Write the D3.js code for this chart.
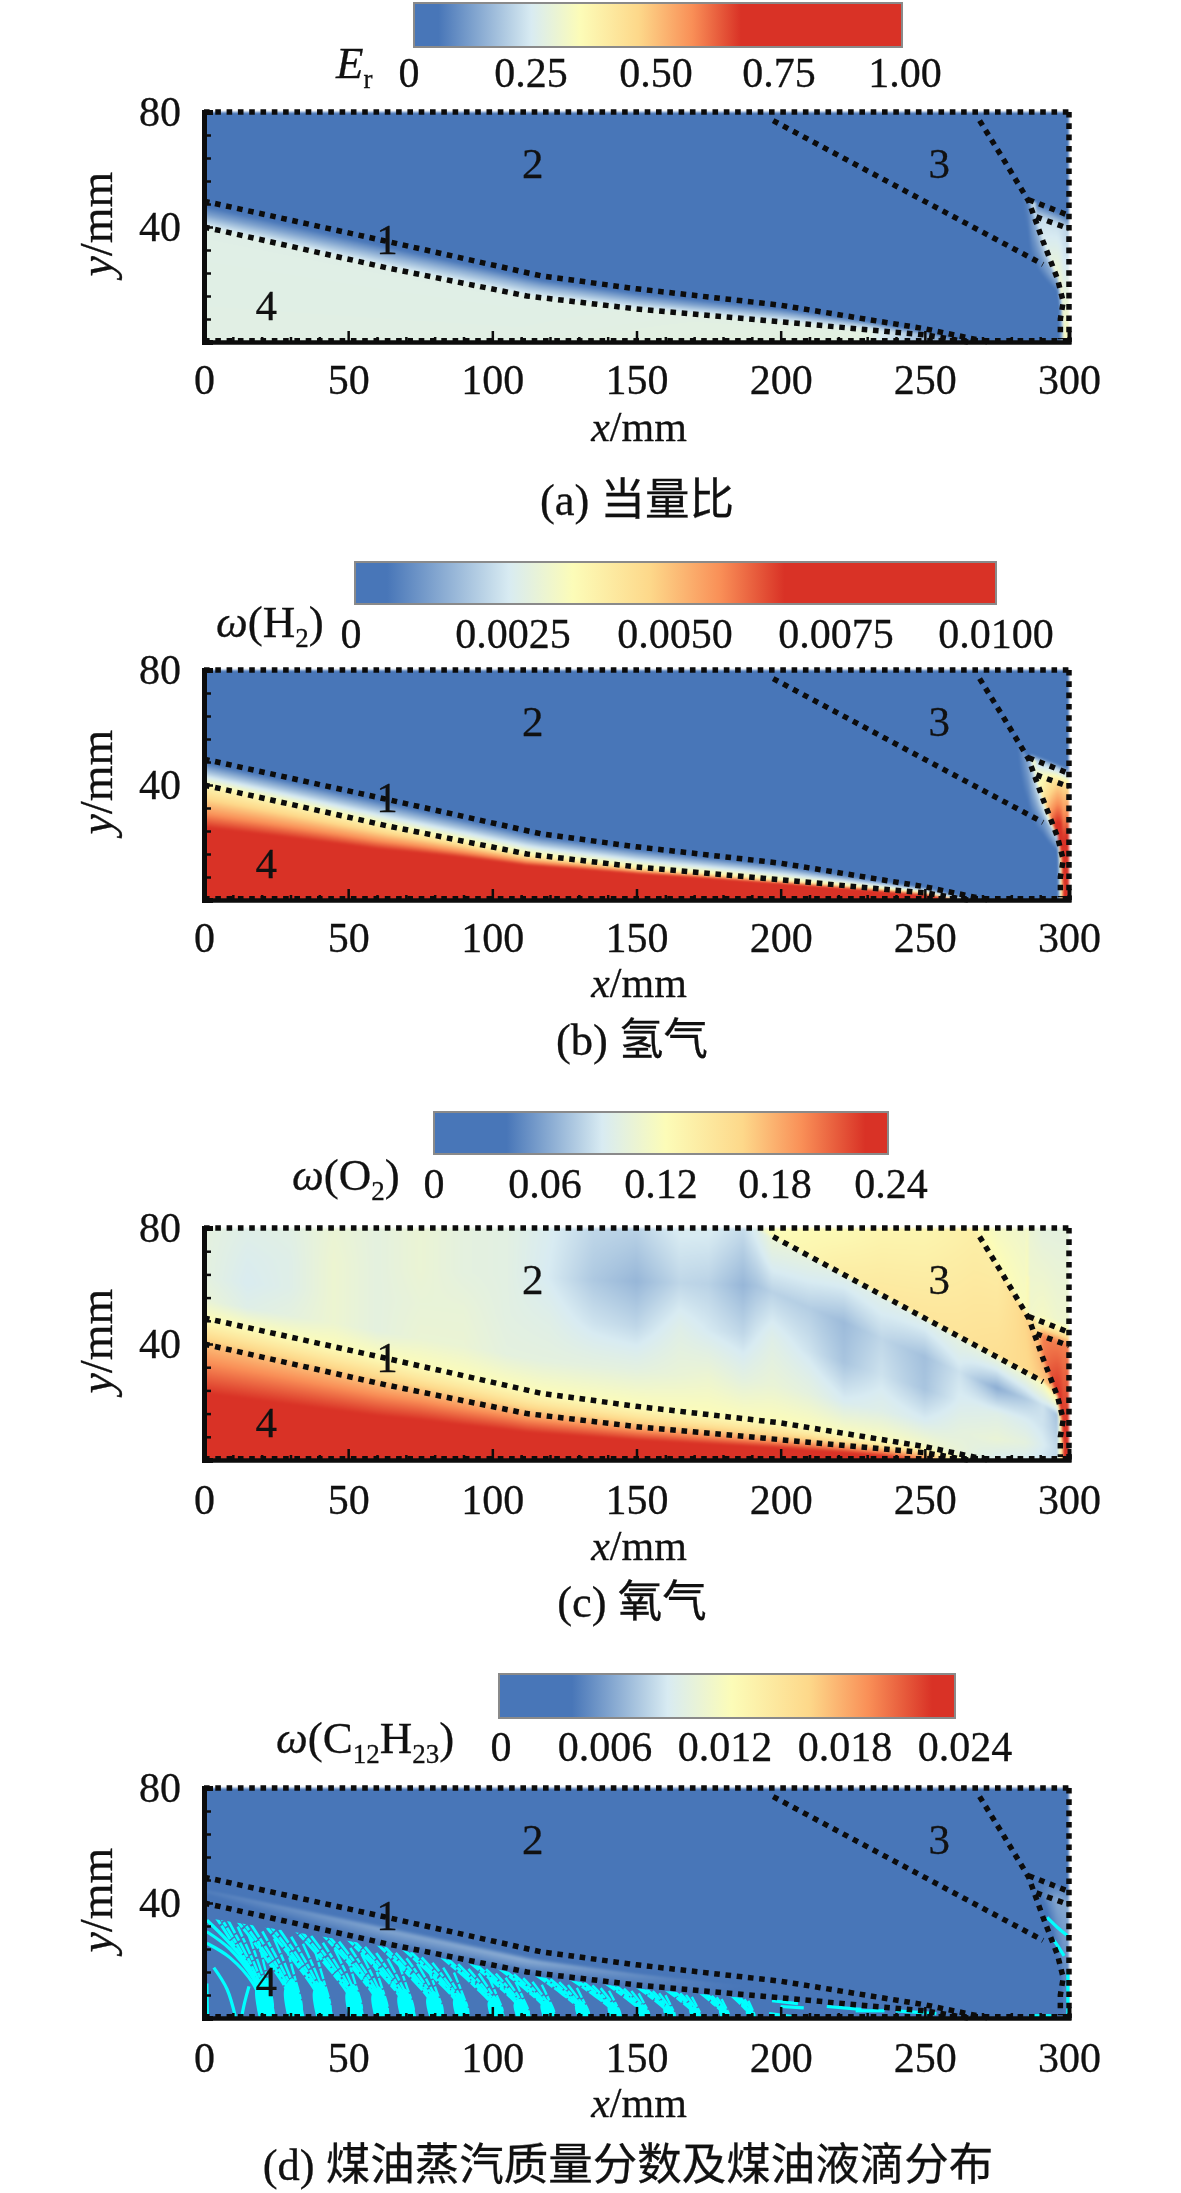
<!DOCTYPE html>
<html>
<head>
<meta charset="utf-8">
<script src="https://cdn.jsdelivr.net/npm/d3@7"></script>
<style>
html, body { margin: 0; padding: 0; background: #fff; }
#page { position: relative; width: 1181px; height: 2193px; overflow: hidden; }
canvas, svg { position: absolute; }
canvas { filter: blur(1.3px); }
text { font-family: "Liberation Serif", "Noto Sans CJK SC", serif; fill: #111; stroke: #111; stroke-width: 0.3px; }
</style>
</head>
<body>
<div id="page"></div>
<script>
/* shock and expansion lines, [x mm, y mm] */
var lowerShock = [[0, 40], [63.5, 25.8], [112, 16], [150, 11.5], [200, 7], [250, 2.5], [265, 0]];
var upperShock = [[0, 49], [63.5, 35], [117, 23], [150, 18.5], [200, 12.8], [250, 4.6], [272, 0]];
var obliqueShock = [[191.5, 80], [291, 27], [296, 22], [297.5, 14], [298, 0]];
var lineThree = [[267, 80], [277, 64], [286, 49], [291, 35], [296, 22], [297.5, 14], [298, 0]];
var reflectHigh = [[285.9, 80], [286, 49.5], [300, 44]];
var reflectLow = [[288.6, 80], [288.7, 43.5], [300, 39.4]];

var xTicks = [0, 50, 100, 150, 200, 250, 300];
var xMinorTicks = [10, 20, 30, 40, 60, 70, 80, 90, 110, 120, 130, 140, 160, 170, 180, 190, 210, 220, 230, 240, 260, 270, 280, 290];
var yTicks = [40, 80];
var yMinorTicks = [8, 16, 24, 32, 48, 56, 64, 72];
var zoneLabels = [["1", 63.5, 35.4], ["2", 114, 62], ["3", 255, 62], ["4", 21.6, 12.7]];

var palette = ["#4876b8", "#4876b8", "#d8ebf2", "#fcfcb8", "#fdd88a", "#f98f57", "#d93226", "#d93226"];
var stopsHot = [0, 0.05, 0.24, 0.34, 0.46, 0.57, 0.67, 1];
var stopsCool = [0, 0.16, 0.37, 0.51, 0.68, 0.81, 0.95, 1];

var erTicks = ["0", "0.25", "0.50", "0.75", "1.00"];
var h2Ticks = ["0", "0.0025", "0.0050", "0.0075", "0.0100"];
var o2Ticks = ["0", "0.06", "0.12", "0.18", "0.24"];
var keroTicks = ["0", "0.006", "0.012", "0.018", "0.024"];

/*
 * field values. One row per mesh level, one column per x station:
 * wall, lower, mid, upper, three levels above, oblique -/+, line 3 -/+,
 * reflect low, reflect high, just above it, top
 */
var erStations = [0, 60, 110, 170, 230, 262, 280, 285.9, 287, 291, 296, 299, 300];
var erField = [
	[.265, .265, .265, .27, .27, .10, 0, 0, 0, 0, 0, .30, .33],
	[.26, .26, .26, .265, .265, .10, 0, 0, 0, 0, 0, .30, .33],
	[.12, .13, .14, .12, .15, .02, 0, 0, 0, 0, 0, .30, .33],
	[.01, 0, 0, 0, 0, 0, 0, 0, 0, 0, 0, .30, .33],
	[0, 0, 0, 0, 0, 0, 0, 0, 0, 0, 0, .30, .33],
	[0, 0, 0, 0, 0, 0, 0, 0, 0, 0, 0, .30, .33],
	[0, 0, 0, 0, 0, 0, 0, 0, 0, 0, 0, .30, .33],
	[0, 0, 0, 0, 0, 0, 0, .02, .03, .10, .15, .30, .33],
	[0, 0, 0, 0, 0, 0, 0, .03, .05, .10, .15, .30, .33],
	[0, 0, 0, 0, 0, 0, .01, .08, .12, .20, .25, .30, .33],
	[0, 0, 0, 0, 0, 0, 0, .02, .20, .24, .30, .33, .33],
	[0, 0, 0, 0, 0, 0, 0, 0, .20, .22, .22, .20, .20],
	[0, 0, 0, 0, 0, 0, 0, 0, .05, .05, .04, .03, .03],
	[0, 0, 0, 0, 0, 0, 0, 0, 0, 0, 0, 0, 0],
	[0, 0, 0, 0, 0, 0, 0, 0, 0, 0, 0, 0, 0]
];

var h2Stations = [0, 60, 110, 170, 230, 250, 262, 280, 285.9, 287, 291, 296, 299, 300];
var h2Field = [
	[.012, .013, .016, .02, .02, .015, .0045, 0, 0, 0, 0, 0, .009, .0095],
	[.0036, .0036, .0036, .0036, .0036, .0036, .002, 0, 0, 0, 0, 0, .009, .0095],
	[.0018, .0018, .0018, .0018, .0019, .002, .001, 0, 0, 0, 0, 0, .009, .0095],
	[.0001, .0001, .0001, .0001, .0001, .0001, 0, 0, 0, 0, 0, 0, .009, .0095],
	[0, 0, 0, 0, 0, 0, 0, 0, 0, 0, 0, 0, .009, .0095],
	[0, 0, 0, 0, 0, 0, 0, 0, 0, 0, 0, 0, .009, .0095],
	[0, 0, 0, 0, 0, 0, 0, 0, 0, 0, 0, 0, .009, .0095],
	[0, 0, 0, 0, 0, 0, 0, 0, .0003, .0005, .001, .002, .009, .0095],
	[0, 0, 0, 0, 0, 0, 0, 0, .0003, .0005, .001, .002, .009, .0095],
	[0, 0, 0, 0, 0, 0, 0, 0, .0014, .0018, .003, .004, .009, .0095],
	[0, 0, 0, 0, 0, 0, 0, 0, 0, .0022, .004, .0075, .0095, .0095],
	[0, 0, 0, 0, 0, 0, 0, 0, 0, .003, .0035, .0045, .0045, .0045],
	[0, 0, 0, 0, 0, 0, 0, 0, 0, .002, .002, .002, .0018, .0018],
	[0, 0, 0, 0, 0, 0, 0, 0, 0, 0, 0, 0, 0, 0],
	[0, 0, 0, 0, 0, 0, 0, 0, 0, 0, 0, 0, 0, 0]
];

var o2Stations = [0, 15, 30, 45, 60, 75, 90, 105, 120, 135, 150, 165, 175, 187, 197, 210, 222, 235, 250, 262, 275, 285, 291, 296, 299, 300];
var o2Field = [
	[.30, .30, .30, .30, .30, .30, .30, .30, .30, .30, .30, .30, .30, .30, .30, .29, .28, .26, .20, .13, .09, .09, .08, .08, .24, .24],
	[.175, .175, .175, .175, .175, .178, .178, .18, .18, .18, .18, .18, .18, .18, .18, .18, .18, .175, .16, .13, .095, .09, .085, .08, .24, .24],
	[.147, .147, .147, .147, .147, .147, .147, .147, .147, .147, .147, .147, .147, .147, .147, .147, .14, .14, .13, .115, .09, .09, .08, .08, .24, .24],
	[.122, .122, .122, .122, .122, .122, .122, .122, .122, .122, .122, .122, .122, .122, .122, .122, .12, .12, .115, .105, .09, .09, .085, .08, .24, .24],
	[.105, .095, .10, .108, .10, .106, .106, .10, .10, .10, .10, .105, .108, .10, .105, .10, .09, .095, .09, .10, .105, .10, .09, .08, .22, .22],
	[.10, .09, .095, .108, .10, .104, .104, .098, .095, .085, .08, .095, .088, .08, .095, .085, .072, .085, .072, .09, .095, .09, .085, .075, .22, .22],
	[.10, .092, .095, .108, .10, .106, .10, .098, .088, .074, .066, .08, .078, .066, .078, .076, .068, .08, .07, .085, .062, .075, .085, .07, .22, .22],
	[.10, .095, .097, .106, .10, .106, .10, .098, .09, .08, .078, .09, .09, .082, .105, .10, .095, .095, .095, .10, .105, .11, .12, .14, .24, .24],
	[.10, .095, .097, .106, .10, .106, .10, .098, .09, .08, .078, .09, .09, .082, .125, .13, .14, .145, .148, .15, .155, .16, .17, .18, .24, .24],
	[.10, .095, .097, .106, .10, .106, .10, .098, .09, .08, .078, .09, .09, .082, .12, .125, .125, .13, .13, .135, .14, .165, .18, .19, .24, .24],
	[.10, .095, .097, .106, .10, .106, .10, .098, .09, .08, .078, .09, .09, .082, .12, .125, .125, .13, .13, .135, .125, .12, .20, .23, .24, .24],
	[.10, .095, .097, .106, .10, .106, .10, .098, .09, .08, .078, .09, .09, .082, .12, .125, .125, .13, .13, .135, .115, .11, .20, .20, .20, .20],
	[.10, .095, .097, .106, .10, .106, .10, .098, .09, .08, .078, .09, .09, .082, .12, .125, .125, .13, .13, .135, .115, .105, .125, .13, .13, .13],
	[.10, .095, .097, .106, .10, .106, .10, .098, .09, .08, .078, .09, .09, .082, .12, .125, .125, .13, .13, .135, .115, .11, .115, .11, .11, .11],
	[.10, .095, .097, .106, .10, .106, .10, .098, .09, .08, .078, .09, .09, .082, .12, .125, .125, .13, .13, .135, .11, .108, .10, .10, .10, .10]
];

var keroStations = [0, 60, 110, 170, 230, 262, 290, 296, 300];
var keroField = [
	[.001, .001, .001, .001, .001, 0, 0, 0, 0],
	[.003, .004, .004, .004, .003, 0, 0, 0, 0],
	[.0042, .0058, .0062, .0042, .003, 0, 0, 0, 0],
	[0, 0, 0, 0, 0, 0, 0, 0, 0],
	[0, 0, 0, 0, 0, 0, 0, 0, 0],
	[0, 0, 0, 0, 0, 0, 0, 0, 0],
	[0, 0, 0, 0, 0, 0, 0, 0, 0],
	[0, 0, 0, 0, 0, 0, 0, 0, 0],
	[0, 0, 0, 0, 0, 0, 0, 0, 0],
	[0, 0, 0, 0, 0, 0, 0, 0, 0],
	[0, 0, 0, 0, 0, 0, .002, .004, .004],
	[0, 0, 0, 0, 0, 0, .004, .006, .006],
	[0, 0, 0, 0, 0, 0, .004, .0045, .0045],
	[0, 0, 0, 0, 0, 0, 0, 0, 0],
	[0, 0, 0, 0, 0, 0, 0, 0, 0]
];

/* kerosene droplets: plume feet on the wall, how far back each plume reaches */
var plumeFoot = [22, 32, 42, 53, 62, 71, 81, 90, 102, 111, 120, 132, 143, 153, 162, 171, 181, 190];
var plumeReach = [21, 24, 24, 24, 23, 23, 22, 22, 21, 20, 19, 18, 17, 15, 13, 12, 10, 8];
var plumeWidth = [7, 7, 7, 6.5, 6.5, 6.5, 6.5, 6, 6, 6, 5.5, 5.5, 5, 5, 4.5, 4.5, 4, 3.5];
var streakFraction = [1, 0.83, 0.66, 0.49, 0.32, 0.15];
var looseStreaks = [
	[[1, 34], [8, 27], [16, 17], [22, 0]],
	[[1, 30], [9, 24], [17, 14], [24, 0]],
	[[1, 26], [9, 21], [17, 12], [22, 0]],
	[[3.4, 17.5], [8, 10], [11, 0]],
	[[15.6, 11], [14, 5], [13, 0]],
	[[1, 12], [1.2, 0]],
	[[292.4, 35], [296, 31.5], [299.4, 28.7]],
	[[294.8, 27], [296.8, 24], [298.3, 21.6]],
	[[299.6, 16], [299.6, 0]],
	[[197, 6], [206, 5]], [[200, 4], [208, 3.5]],
	[[216, 4], [228, 3]], [[226, 2.5], [236, 2.5]],
	[[240, 2.5], [254, 1.5]], [[196, 1.5], [204, 0.5]], [[286, 0.8], [294, 0.8]]
];

var panels = [
	{ top: 112, bottom: 342, title: [["E", "i"], ["r", "s"]], titleX: 336, titleY: 78,
		barX: [414, 902], barY: [3, 47], tickLabels: erTicks, tickX: [409, 531, 656, 779, 905], tickY: 87,
		stations: erStations, field: erField, max: 1, stops: stopsHot,
		caption: "(a) 当量比", capX: 637, capY: 515, tickBase: 393, xLabel: 441 },
	{ top: 670, bottom: 900, title: [["ω", "i"], ["(H", ""], ["2", "s"], [")", ""]], titleX: 216, titleY: 637,
		barX: [355, 996], barY: [562, 604], tickLabels: h2Ticks, tickX: [351, 513, 675, 836, 996], tickY: 648,
		stations: h2Stations, field: h2Field, max: 0.01, stops: stopsHot,
		caption: "(b) 氢气", capX: 632, capY: 1055, tickBase: 951, xLabel: 997 },
	{ top: 1228, bottom: 1460, title: [["ω", "i"], ["(O", ""], ["2", "s"], [")", ""]], titleX: 292, titleY: 1190,
		barX: [434, 888], barY: [1112, 1154], tickLabels: o2Ticks, tickX: [434, 545, 661, 775, 891], tickY: 1198,
		stations: o2Stations, field: o2Field, max: 0.24, stops: stopsCool,
		caption: "(c) 氧气", capX: 632, capY: 1617, tickBase: 1513, xLabel: 1560 },
	{ top: 1788, bottom: 2018, title: [["ω", "i"], ["(C", ""], ["12", "s"], ["H", ""], ["23", "s"], [")", ""]], titleX: 276, titleY: 1753,
		barX: [499, 955], barY: [1674, 1718], tickLabels: keroTicks, tickX: [501, 605, 725, 845, 965], tickY: 1761,
		stations: keroStations, field: keroField, max: 0.024, stops: stopsCool,
		caption: "(d) 煤油蒸汽质量分数及煤油液滴分布", capX: 628, capY: 2180, tickBase: 2071, xLabel: 2117, droplets: true }
];

var plotLeft = 204, plotRight = 1069;
var fontSize = 42;

var page = d3.select("#page");
var svg = page.append("svg").attr("width", 1181).attr("height", 2193);
var defs = svg.append("defs");

var xScale = d3.scaleLinear().domain([0, 300]).range([plotLeft, plotRight]);

function curveScale(points) {
	return d3.scaleLinear()
		.domain(points.map(function (p) { return p[0]; }))
		.range(points.map(function (p) { return p[1]; }))
		.clamp(true);
}

var lowerY = curveScale(lowerShock);
var upperY = curveScale(upperShock);
var obliqueY = curveScale(obliqueShock);
var lineThreeY = curveScale(lineThree);
var highY = curveScale(reflectHigh);
var lowY = curveScale(reflectLow);

/* mesh levels at a given x, kept ascending so a scale can bisect them */
function meshLevels(x) {
	var lo = lowerY(x), up = upperY(x), ob = obliqueY(x), l3 = lineThreeY(x);
	var high = highY(x), low = Math.min(lowY(x), high);
	var levels = [0, lo, (lo + up) / 2, up, up + (ob - up) * 0.2, up + (ob - up) * 0.45,
		up + (ob - up) * 0.7, ob - 0.5, ob + 0.5, l3 - 0.5, l3 + 0.5, low, high, high + 2.5, 80];
	var last = 0;
	return levels.map(function (v) {
		last = Math.min(80, Math.max(last, v));
		return last;
	});
}

function drawField(panel, yScale) {
	var width = plotRight - plotLeft, height = panel.bottom - panel.top;
	var canvas = page.insert("canvas", "svg")
		.attr("width", width).attr("height", height)
		.style("left", plotLeft + "px").style("top", panel.top + "px");
	var ctx = canvas.node().getContext("2d");
	var image = ctx.createImageData(width, height);

	var color = d3.scaleLinear()
		.domain(panel.stops.map(function (s) { return s * panel.max; }))
		.range(palette)
		.clamp(true);
	var lut = d3.range(1024).map(function (i) { return d3.rgb(color(i / 1023 * panel.max)); });
	var rowScales = panel.field.map(function (row) {
		return d3.scaleLinear().domain(panel.stations).range(row).clamp(true);
	});

	for (var i = 0; i < width; i++) {
		var x = xScale.invert(plotLeft + i + 0.5);
		var column = d3.scaleLinear()
			.domain(meshLevels(x))
			.range(rowScales.map(function (s) { return s(x); }));
		for (var j = 0; j < height; j++) {
			var v = column(yScale.invert(panel.top + j + 0.5));
			var c = lut[Math.max(0, Math.min(1023, Math.round(v / panel.max * 1023)))];
			var k = (j * width + i) * 4;
			image.data[k] = c.r;
			image.data[k + 1] = c.g;
			image.data[k + 2] = c.b;
			image.data[k + 3] = 255;
		}
	}
	ctx.putImageData(image, 0, 0);
}

function drawBar(panel, index) {
	var id = "bar" + index;
	var grad = defs.append("linearGradient").attr("id", id);
	var color = d3.scaleLinear().domain(panel.stops).range(palette);
	grad.selectAll("stop").data(panel.stops).enter().append("stop")
		.attr("offset", function (d) { return d; })
		.attr("stop-color", function (d) { return color(d); });

	svg.append("rect")
		.attr("x", panel.barX[0]).attr("y", panel.barY[0])
		.attr("width", panel.barX[1] - panel.barX[0])
		.attr("height", panel.barY[1] - panel.barY[0])
		.attr("fill", "url(#" + id + ")")
		.attr("stroke", "#8a8a8a").attr("stroke-width", 2);

	svg.append("g").selectAll("text").data(panel.tickLabels).enter().append("text")
		.attr("x", function (d, i) { return panel.tickX[i]; })
		.attr("y", panel.tickY)
		.attr("text-anchor", "middle")
		.attr("font-size", fontSize)
		.text(function (d) { return d; });

	var title = svg.append("text")
		.attr("x", panel.titleX).attr("y", panel.titleY)
		.attr("font-size", 45);
	var wasSub = false;
	panel.title.forEach(function (part) {
		var isSub = part[1] === "s";
		title.append("tspan")
			.attr("dy", isSub === wasSub ? 0 : (isSub ? 10 : -10))
			.attr("font-size", isSub ? 27 : 45)
			.attr("font-style", part[1] === "i" ? "italic" : "normal")
			.text(part[0]);
		wasSub = isSub;
	});
}

function drawDroplets(panel, yScale, g, index) {
	var clipId = "spray" + index;
	var straight = d3.line()
		.x(function (p) { return xScale(p[0]); })
		.y(function (p) { return yScale(p[1]); });
	var line = d3.line()
		.x(function (p) { return xScale(p[0]); })
		.y(function (p) { return yScale(p[1]); })
		.curve(d3.curveCatmullRom);

	defs.append("clipPath").attr("id", clipId).append("path")
		.attr("d", straight([[0, 0], [0, 35]].concat(lowerShock.slice(1).map(function (p) { return [p[0], p[1] - 1.2]; })).concat([[300, 0]])));

	var spray = g.append("g").attr("clip-path", "url(#" + clipId + ")")
		.attr("fill", "none").attr("stroke", "#00ffff");

	plumeFoot.forEach(function (foot, i) {
		var reach = plumeReach[i], w = plumeWidth[i], h = lowerY(foot);
		spray.append("path")
			.attr("d", line([[foot - w * 0.42, 0], [foot - w * 0.6, h * 0.3], [foot - w * 0.2, h * 0.42], [foot + w * 0.1, h * 0.3], [foot + w * 0.42, 0]]))
			.attr("fill", "#00ffff").attr("stroke", "none");
		streakFraction.forEach(function (f, k) {
			var sx = Math.max(1, foot - reach * f);
			var sy = lowerY(sx) * (1 - k * 0.05);
			var off = (f - 0.55) * w * 0.6;
			spray.append("path")
				.attr("d", line([[sx, sy], [sx + (foot - off - sx) * 0.6, sy * 0.55], [foot - off * 1.1, sy * 0.18], [foot - off, 0]]))
				.attr("stroke-width", 2.9 - k * 0.1)
				.attr("stroke-dasharray", k % 2 ? "11 1.5 5 1.5" : "16 1.5 7 2");
		});
	});

	g.append("g").attr("fill", "none").attr("stroke", "#00ffff")
		.selectAll("path").data(looseStreaks).enter().append("path")
		.attr("d", line)
		.attr("stroke-width", 3.2);
}

function drawPanel(panel, index) {
	var yScale = d3.scaleLinear().domain([0, 80]).range([panel.bottom, panel.top]);
	drawField(panel, yScale);
	drawBar(panel, index);

	var g = svg.append("g");
	if (panel.droplets) drawDroplets(panel, yScale, g, index);

	var pathOf = d3.line()
		.x(function (p) { return xScale(p[0]); })
		.y(function (p) { return yScale(p[1]); });
	var lines = [
		[[0, 80], [300, 80]],
		[[300, 80], [300, 0]],
		[[0, 0.4], [300, 0.4]],
		lowerShock, upperShock,
		[[197.4, 77], [291, 27]],
		[[269, 77], [277, 64], [286, 49], [291, 35], [296, 22], [298, 14], [297, 8], [297, 1]],
		[[286, 49.5], [300, 44]],
		[[288.7, 43.5], [300, 39.4]]
	];
	lines.forEach(function (pts) {
		g.append("path").attr("d", pathOf(pts))
			.attr("fill", "none").attr("stroke", "#0c0c0c")
			.attr("stroke-width", 5.5).attr("stroke-dasharray", "5.6 5.7");
	});

	var xAxis = d3.axisBottom(xScale).tickValues(xTicks).tickSize(-11).tickPadding(panel.tickBase - panel.bottom - 29);
	var xMinor = d3.axisBottom(xScale).tickValues(xMinorTicks).tickSize(-5).tickFormat("");
	var yAxis = d3.axisLeft(yScale).tickValues(yTicks).tickSize(-9).tickPadding(23);
	var yMinor = d3.axisLeft(yScale).tickValues(yMinorTicks).tickSize(-7).tickFormat("");

	[[xMinor, 0], [xAxis, 1]].forEach(function (a) {
		var ax = g.append("g").attr("transform", "translate(0," + panel.bottom + ")").call(a[0]);
		ax.selectAll("line").attr("stroke", "#0c0c0c").attr("stroke-width", 2.5);
		ax.select(".domain").attr("stroke", "#0c0c0c").attr("stroke-width", 4);
		ax.selectAll("text").attr("font-size", fontSize).attr("font-family", null);
	});
	[[yMinor, 0], [yAxis, 1]].forEach(function (a) {
		var ax = g.append("g").attr("transform", "translate(" + plotLeft + ",0)").call(a[0]);
		ax.selectAll("line").attr("stroke", "#0c0c0c").attr("stroke-width", 2.5);
		ax.select(".domain").attr("stroke", "#0c0c0c").attr("stroke-width", 5);
		ax.selectAll("text").attr("font-size", fontSize).attr("font-family", null);
	});

	g.append("g").selectAll("text").data(zoneLabels).enter().append("text")
		.attr("x", function (d) { return xScale(d[1]); })
		.attr("y", function (d) { return yScale(d[2]); })
		.attr("dy", "0.33em")
		.attr("text-anchor", "middle")
		.attr("font-size", 43)
		.text(function (d) { return d[0]; });

	var xl = svg.append("text")
		.attr("x", 639).attr("y", panel.xLabel)
		.attr("text-anchor", "middle").attr("font-size", fontSize);
	xl.append("tspan").attr("font-style", "italic").text("x");
	xl.append("tspan").text("/mm");

	var yl = svg.append("text")
		.attr("transform", "translate(112," + ((panel.top + panel.bottom) / 2 - 3) + ") rotate(-90)")
		.attr("text-anchor", "middle").attr("font-size", 46);
	yl.append("tspan").attr("font-style", "italic").text("y");
	yl.append("tspan").text("/mm");

	svg.append("text")
		.attr("x", panel.capX).attr("y", panel.capY)
		.attr("text-anchor", "middle").attr("font-size", 44.5)
		.text(panel.caption);
}

panels.forEach(drawPanel);
</script>
</body>
</html>
